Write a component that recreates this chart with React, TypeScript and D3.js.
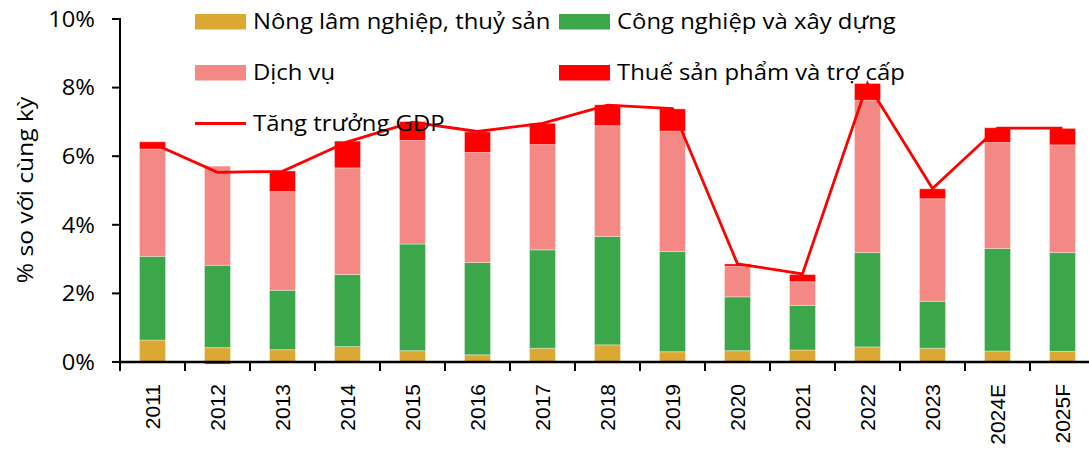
import React from "react";
import * as d3 from "d3";

const categories = ["2011","2012","2013","2014","2015","2016","2017","2018","2019","2020","2021","2022","2023","2024E","2025F"];
const agriculture = [0.64,0.42,0.36,0.45,0.33,0.21,0.40,0.50,0.30,0.33,0.35,0.44,0.40,0.32,0.31];
const industry = [2.44,2.40,1.73,2.10,3.11,2.69,2.87,3.16,2.92,1.57,1.30,2.75,1.37,2.99,2.88];
const services = [3.13,2.89,2.88,3.11,3.02,3.21,3.07,3.23,3.51,0.89,0.69,4.44,2.99,3.09,3.14];
const taxes = [0.21,-0.06,0.60,0.78,0.55,0.60,0.62,0.61,0.65,0.07,0.21,0.49,0.29,0.43,0.48];
const gdpGrowth = [6.38,5.53,5.56,6.42,6.99,6.72,6.96,7.49,7.39,2.86,2.57,8.12,5.06,6.82,6.82];
const yTicks = [0,2,4,6,8,10];

const seriesKeys = ["agri","ind","svc","tax"];
const seriesNames = ["Nông lâm nghiệp, thuỷ sản","Công nghiệp và xây dựng","Dịch vụ","Thuế sản phẩm và trợ cấp"];
const seriesColors = ["#DBA933","#3CA64A","#F48884","#FF0000"];
const lineName = "Tăng trưởng GDP";
const lineColor = "#FF0000";

const W = 1089, H = 451;
const left = 120, step = 65, y0 = 362, y10 = 19;
const sansFont = "'Open Sans', 'Noto Sans', sans-serif";
const axisFont = "'Liberation Sans', Arial, sans-serif";

export default function App() {
  const rows = categories.map((c, i) => ({ cat: c, agri: agriculture[i], ind: industry[i], svc: services[i], tax: taxes[i] }));
  const x = d3.scaleBand().domain(categories).range([left, left + step * categories.length]).paddingInner(0.6).paddingOuter(0.3);
  const y = d3.scaleLinear().domain([0, 10]).range([y0, y10]);
  const stack = d3.stack<any>().keys(seriesKeys).offset(d3.stackOffsetDiverging);
  const stacked = stack(rows as any);
  const line = d3.line<number>().x((_, i) => (x(categories[i]) as number) + x.bandwidth() / 2).y(d => y(d));

  const legend = [
    { kind: "rect", color: seriesColors[0], name: seriesNames[0], sx: 195, ty: 29 },
    { kind: "rect", color: seriesColors[1], name: seriesNames[1], sx: 559, ty: 29 },
    { kind: "rect", color: seriesColors[2], name: seriesNames[2], sx: 195, ty: 80 },
    { kind: "rect", color: seriesColors[3], name: seriesNames[3], sx: 559, ty: 80 },
    { kind: "line", color: lineColor, name: lineName, sx: 195, ty: 131 },
  ];

  return (
    <svg width={W} height={H} style={{ position: "absolute", left: 0, top: 0, background: "#fff" }}>
      {stacked.map((s, si) => (
        <g key={si} fill={seriesColors[si]}>
          {s.map((d, i) => (
            <rect key={i} x={x(categories[i])} width={x.bandwidth()}
              y={y(Math.max(d[0], d[1]))} height={Math.abs(y(d[0]) - y(d[1]))}
              stroke="#ffffff" strokeOpacity={0.35} strokeWidth={1} />
          ))}
        </g>
      ))}
      <path d={line(gdpGrowth) || ""} fill="none" stroke={lineColor} strokeWidth={2.8} strokeLinejoin="miter" />
      {/* axes */}
      <line x1={left} x2={W} y1={y0} y2={y0} stroke="#000" strokeWidth={2.5} />
      <line x1={left} x2={left} y1={y10 - 1} y2={y0 + 1} stroke="#000" strokeWidth={2} />
      {yTicks.map(t => (
        <g key={t}>
          <line x1={left - 8} x2={left} y1={y(t)} y2={y(t)} stroke="#000" strokeWidth={2} />
          <text transform={`translate(95,${y(t)}) scale(1.08,1)`} dy="0.35em" textAnchor="end" fontFamily={sansFont} fontSize={22} fill="#000">{t}%</text>
        </g>
      ))}
      {categories.map((c, i) => {
        const bx = left + step * i;
        const cx = (x(c) as number) + x.bandwidth() / 2;
        return (
          <g key={c}>
            <line x1={bx} x2={bx} y1={y0} y2={y0 + 9} stroke="#000" strokeWidth={2} />
            <text transform={`translate(${cx + 7.5},384) rotate(-90)`} textAnchor="end" fontFamily={axisFont} fontSize={21} fill="#000">{c}</text>
          </g>
        );
      })}
      <text transform={`translate(33,190) rotate(-90) scale(1.12,1)`} textAnchor="middle" fontFamily={sansFont} fontSize={22} fill="#000">% so với cùng kỳ</text>
      {legend.map((l, i) => (
        <g key={i}>
          {l.kind === "rect"
            ? <rect x={l.sx} y={l.ty - 15} width={51} height={15.5} fill={l.color} />
            : <line x1={l.sx} x2={l.sx + 51} y1={l.ty - 7.5} y2={l.ty - 7.5} stroke={l.color} strokeWidth={2.8} />}
          <text transform={`translate(${l.sx + 58},${l.ty}) scale(1.11,1)`} fontFamily={sansFont} fontSize={21.5} fill="#000">{l.name}</text>
        </g>
      ))}
    </svg>
  );
}
